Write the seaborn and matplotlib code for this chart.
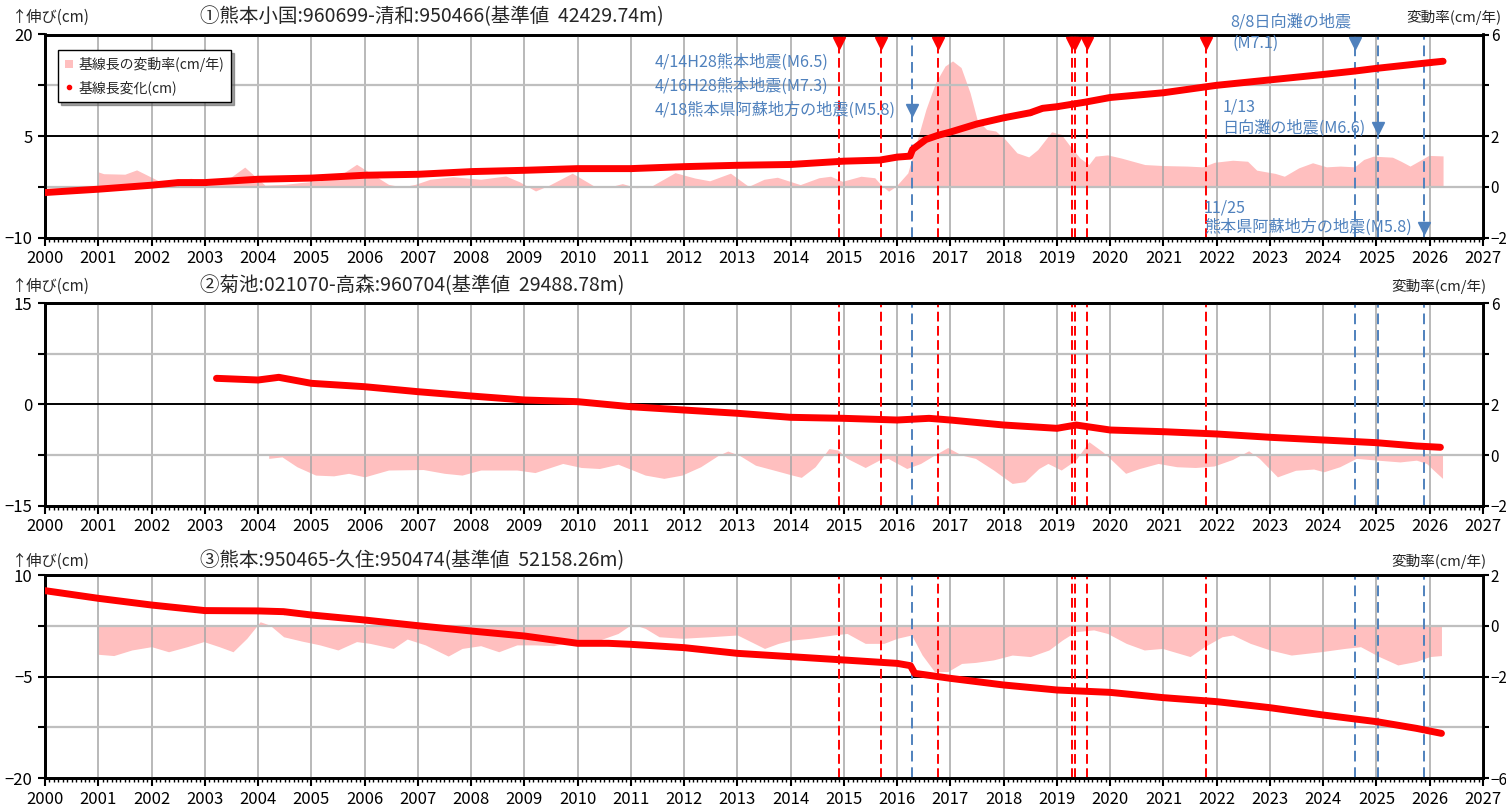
import matplotlib
matplotlib.use("Agg")
import matplotlib.pyplot as plt
from matplotlib.ticker import MultipleLocator
from matplotlib.lines import Line2D
from matplotlib.patches import Patch
import seaborn as sns

sns.set_theme(style="white")
plt.rcParams["font.family"] = ["Noto Sans CJK JP", "DejaVu Sans"]

# ---- 観測データ（図から読み取り） ----
# ① 熊本小国-清和
p1_t = [2000.0, 2001, 2002, 2002.5, 2003, 2004, 2005, 2006, 2007, 2008, 2009, 2010,
        2011, 2012, 2013, 2014, 2015, 2015.67, 2016.0, 2016.24, 2016.29, 2016.54,
        2016.76, 2017, 2017.5, 2018, 2018.5, 2018.73, 2019, 2019.52, 2020, 2021,
        2022, 2023, 2024, 2024.59, 2025, 2026, 2026.25]
p1_v = [-3.33, -2.84, -2.25, -1.86, -1.86, -1.37, -1.2, -0.78, -0.64, -0.24, -0.05, 0.2,
        0.2, 0.49, 0.69, 0.81, 1.3, 1.45, 1.9, 2.04, 3.03, 4.5,
        5.1, 5.6, 6.8, 7.7, 8.45, 9.1, 9.34, 10.0, 10.7, 11.4,
        12.5, 13.3, 14.1, 14.6, 15.0, 15.85, 16.05]
p1_rt = [2001.0, 2001.1, 2001.5, 2001.72, 2002.2, 2002.5, 2002.75, 2003.0, 2003.35, 2003.75,
         2004.13, 2004.5, 2004.8, 2005.16, 2005.5, 2005.85, 2006.45, 2006.7, 2006.95, 2007.23,
         2007.66, 2008.18, 2008.65, 2008.91, 2009.21, 2009.45, 2009.9, 2010.33, 2010.6, 2010.84,
         2011.1, 2011.36, 2011.83, 2012.2, 2012.48, 2012.87, 2013.21, 2013.5, 2013.75, 2014.18,
         2014.53, 2014.75, 2014.97, 2015.32, 2015.58, 2015.71, 2015.84, 2015.98, 2016.2, 2016.38,
         2016.54, 2016.72, 2016.9, 2017.04, 2017.2, 2017.37, 2017.5, 2017.68, 2017.85, 2018.03,
         2018.25, 2018.47, 2018.64, 2018.9, 2019.08, 2019.25, 2019.43, 2019.6, 2019.72, 2019.95,
         2020.2, 2020.65, 2021.0, 2021.44, 2021.74, 2021.96, 2022.3, 2022.58, 2022.75, 2023.1,
         2023.27, 2023.54, 2023.8, 2024.06, 2024.32, 2024.59, 2024.76, 2024.94, 2025.3, 2025.46,
         2025.63, 2025.85, 2025.98, 2026.25]
p1_rate = [0.59, 0.52, 0.5, 0.67, 0.17, 0.3, 0.34, 0.1, 0.17, 0.78,
           0.07, 0.1, 0.17, 0.24, 0.4, 0.89, 0.1, 0.0, 0.1, 0.3,
           0.4, 0.3, 0.43, 0.2, -0.16, 0.05, 0.54, 0.01, 0.0, 0.13,
           -0.03, 0.0, 0.56, 0.35, 0.24, 0.54, 0.02, 0.3, 0.38, 0.09,
           0.36, 0.42, 0.22, 0.42, 0.36, 0.05, -0.17, 0.03, 0.55, 1.87,
           3.05, 4.1, 4.76, 4.96, 4.7, 3.7, 2.66, 2.26, 2.2, 1.87,
           1.34, 1.18, 1.47, 2.17, 2.07, 1.6, 1.14, 0.88, 1.21, 1.26,
           1.14, 0.88, 0.84, 0.82, 0.79, 0.97, 1.05, 1.01, 0.66, 0.53,
           0.42, 0.75, 0.95, 0.79, 0.82, 0.79, 1.08, 1.21, 1.17, 1.01,
           0.82, 1.08, 1.24, 1.22]

# ② 菊池-高森
p2_t = [2003.22, 2004.0, 2004.39, 2005, 2006, 2007, 2008, 2009, 2010, 2011, 2012, 2013,
        2014, 2015, 2016, 2016.6, 2017, 2018, 2019, 2019.36, 2020, 2021, 2022, 2023,
        2024, 2025, 2025.75, 2026.2]
p2_v = [3.88, 3.63, 4.03, 3.14, 2.64, 1.9, 1.26, 0.67, 0.42, -0.33, -0.82, -1.3,
        -1.9, -2.05, -2.3, -2.05, -2.3, -3.04, -3.53, -3.04, -3.78, -4.03, -4.37, -4.86,
        -5.26, -5.66, -6.15, -6.34]
p2_rt = [2004.2, 2004.45, 2004.73, 2005.08, 2005.42, 2005.7, 2006.0, 2006.45, 2007.1, 2007.5,
         2007.83, 2008.18, 2008.86, 2009.2, 2009.72, 2010.07, 2010.41, 2010.76, 2011.27, 2011.62,
         2011.96, 2012.31, 2012.65, 2012.82, 2013.03, 2013.34, 2013.68, 2014.03, 2014.2, 2014.46,
         2014.72, 2014.89, 2015.06, 2015.4, 2015.66, 2015.83, 2016.18, 2016.44, 2016.7, 2016.95,
         2017.21, 2017.47, 2017.81, 2018.16, 2018.4, 2018.66, 2018.83, 2019.08, 2019.35, 2019.6,
         2019.86, 2020.03, 2020.29, 2020.55, 2020.9, 2021.25, 2021.6, 2021.95, 2022.3, 2022.6,
         2022.8, 2023.14, 2023.48, 2023.82, 2024.01, 2024.31, 2024.62, 2025.02, 2025.44, 2025.75,
         2025.94, 2026.07, 2026.24]
p2_rate = [-0.13, -0.07, -0.46, -0.79, -0.82, -0.72, -0.86, -0.59, -0.57, -0.72,
           -0.79, -0.59, -0.59, -0.69, -0.33, -0.49, -0.53, -0.36, -0.79, -0.92,
           -0.79, -0.46, 0.0, 0.16, 0.0, -0.4, -0.59, -0.79, -0.88, -0.46,
           0.26, 0.2, -0.13, -0.49, -0.2, -0.13, -0.53, -0.33, 0.0, 0.3,
           0.0, -0.13, -0.59, -1.12, -1.05, -0.53, -0.33, -0.59, -0.2, 0.53,
           0.13, -0.2, -0.72, -0.53, -0.33, -0.46, -0.49, -0.43, -0.17, 0.17,
           -0.13, -0.86, -0.6, -0.55, -0.66, -0.46, -0.13, -0.2, -0.27, -0.2,
           -0.33, -0.59, -0.92]

# ③ 熊本-久住
p3_t = [2000.0, 2001, 2002, 2003, 2004, 2004.48, 2005, 2006, 2007, 2008, 2009, 2010,
        2010.58, 2011, 2012, 2013, 2014, 2015, 2016, 2016.25, 2016.33, 2017, 2018, 2019,
        2020, 2021, 2022, 2023, 2024, 2025, 2025.75, 2026.22]
p3_v = [7.69, 6.56, 5.57, 4.75, 4.7, 4.59, 4.1, 3.36, 2.52, 1.74, 1.0, -0.08,
        -0.08, -0.23, -0.72, -1.56, -2.05, -2.54, -3.04, -3.38, -4.51, -5.25, -6.23, -6.97,
        -7.32, -8.1, -8.69, -9.58, -10.66, -11.64, -12.63, -13.37]
p3_rt = [2001.0, 2001.29, 2001.63, 2002.0, 2002.32, 2002.67, 2002.98, 2003.27, 2003.53, 2003.79,
         2004.04, 2004.22, 2004.48, 2004.82, 2005.16, 2005.5, 2005.85, 2006.1, 2006.54, 2006.8,
         2007.14, 2007.57, 2007.83, 2008.18, 2008.52, 2008.86, 2009.2, 2009.55, 2009.9, 2010.41,
         2010.76, 2011.02, 2011.27, 2011.53, 2011.96, 2012.48, 2013.0, 2013.51, 2013.77, 2014.03,
         2014.37, 2014.8, 2015.06, 2015.4, 2015.75, 2016.0, 2016.27, 2016.47, 2016.7, 2016.95,
         2017.21, 2017.47, 2017.81, 2018.16, 2018.5, 2018.85, 2019.1, 2019.35, 2019.69, 2019.95,
         2020.3, 2020.64, 2020.98, 2021.5, 2021.77, 2022.1, 2022.3, 2022.63, 2023.0, 2023.4,
         2023.95, 2024.4, 2024.7, 2025.05, 2025.4, 2025.75, 2026.0, 2026.22]
p3_rate = [-1.12, -1.17, -0.95, -0.82, -1.02, -0.82, -0.62, -0.82, -1.02, -0.49,
           0.16, 0.03, -0.43, -0.6, -0.75, -0.95, -0.62, -0.69, -0.89, -0.52,
           -0.75, -1.19, -0.89, -0.78, -1.02, -0.75, -0.75, -0.78, -0.62, -0.56,
           -0.3, 0.07, -0.1, -0.43, -0.49, -0.43, -0.36, -0.89, -0.69, -0.56,
           -0.49, -0.36, -0.3, -0.69, -0.69, -0.49, -0.36, -1.15, -1.8, -1.8,
           -1.48, -1.44, -1.34, -1.15, -1.21, -0.95, -0.56, -0.23, -0.16, -0.3,
           -0.69, -0.95, -0.89, -1.21, -0.82, -0.43, -0.36, -0.69, -0.95, -1.15,
           -1.02, -0.89, -0.82, -1.21, -1.54, -1.4, -1.21, -1.17]

# イベント（赤：機器交換等、青：地震）
red_events = [2014.90, 2015.70, 2016.76, 2019.28, 2019.33, 2019.57, 2021.80]
blue_events = [2016.28, 2024.60, 2025.03, 2025.90]

titles = ["①熊本小国:960699-清和:950466(基準値  42429.74m)",
          "②菊池:021070-高森:960704(基準値  29488.78m)",
          "③熊本:950465-久住:950474(基準値  52158.26m)"]

RED = "#FF0000"
PINK = "#FFBFBF"
BLUE = "#4F81BD"
W, H = 1506, 811

fig = plt.figure(figsize=(W / 100, H / 100), dpi=100, facecolor="white")

panels = [
    dict(top=34.5, bot=237.7, t=p1_t, v=p1_v, rt=p1_rt, rate=p1_rate,
         ylim=(-10, 20), lticks=[-10, -2.5, 5, 12.5, 20], llab=["−10", "", "5", "", "20"],
         rlim=(-2, 6), rticks=[-2, 0, 2, 4, 6], rlab=["−2", "0", "2", "", "6"],
         ty=17, rx=1501),
    dict(top=303.3, bot=505.7, t=p2_t, v=p2_v, rt=p2_rt, rate=p2_rate,
         ylim=(-15, 15), lticks=[-15, -7.5, 0, 7.5, 15], llab=["−15", "", "0", "", "15"],
         rlim=(-2, 6), rticks=[-2, 0, 2, 4, 6], rlab=["−2", "0", "2", "", "6"],
         ty=286, rx=1486),
    dict(top=575.0, bot=778.3, t=p3_t, v=p3_v, rt=p3_rt, rate=p3_rate,
         ylim=(-20, 10), lticks=[-20, -12.5, -5, 2.5, 10], llab=["−20", "", "−5", "", "10"],
         rlim=(-6, 2), rticks=[-6, -4, -2, 0, 2], rlab=["−6", "", "−2", "0", "2"],
         ty=561, rx=1486),
]

axes = []
for i, p in enumerate(panels):
    ax = fig.add_axes([45 / W, 1 - p["bot"] / H, (1483 - 45) / W, (p["bot"] - p["top"]) / H])
    ax2 = ax.twinx()
    ax.set_zorder(ax2.get_zorder() + 1)
    ax.patch.set_visible(False)

    # 変動率（右軸）
    ax2.fill_between(p["rt"], 0, p["rate"], color=PINK, lw=0)
    ax2.set_ylim(*p["rlim"])
    ax2.set_yticks(p["rticks"])
    ax2.set_yticklabels(p["rlab"])
    ax2.tick_params(axis="y", direction="out", length=4, width=1.5, pad=1.5,
                    labelsize=11, colors="black")
    ax2.grid(False)

    # 格子
    ax.set_xlim(2000, 2027)
    ax.set_ylim(*p["ylim"])
    ax.set_xticks(range(2000, 2028))
    ax.xaxis.set_minor_locator(MultipleLocator(1 / 12))
    ax.grid(axis="x", which="major", color="#A6A6A6", lw=1.1)
    ax.grid(axis="y", visible=False)
    lt = p["lticks"]
    for k, yv in enumerate(lt[1:-1]):
        ax.axhline(yv, color="black" if k == 1 else "#BFBFBF", lw=1.4 if k == 1 else 1.6, zorder=1)

    for xe in red_events:
        ax.axvline(xe, color=RED, lw=1.4, dashes=(5, 2.3), zorder=2)
    for xe in blue_events:
        ax.axvline(xe, color=BLUE, lw=1.4, dashes=(5.5, 3), zorder=2)

    # 基線長変化（左軸）
    sns.lineplot(x=p["t"], y=p["v"], ax=ax, color=RED, lw=5, legend=False, zorder=3)
    sns.scatterplot(x=p["t"], y=p["v"], ax=ax, color=RED, s=14, linewidth=0, zorder=3)

    ax.set_yticks(lt)
    ax.set_yticklabels(p["llab"])
    ax.set_xticklabels([str(y) for y in range(2000, 2028)])
    ax.tick_params(axis="x", which="major", direction="out", length=6, width=1.5,
                   labelsize=12, pad=3, bottom=True, colors="black")
    ax.tick_params(axis="x", which="minor", direction="out", length=3, width=1,
                   bottom=True, colors="black")
    ax.tick_params(axis="y", direction="out", length=5, width=1.5, labelsize=12, pad=4,
                   left=True, colors="black")
    ax.set_xlabel("")
    ax.set_ylabel("")
    for a in (ax, ax2):
        for s in a.spines.values():
            s.set_color("black")
            s.set_linewidth(2)

    fig.text(12 / W, 1 - p["ty"] / H, "↑伸び(cm)", fontsize=11, ha="left", va="center")
    fig.text(200 / W, 1 - p["ty"] / H, titles[i], fontsize=14, ha="left", va="center")
    fig.text(p["rx"] / W, 1 - p["ty"] / H, "変動率(cm/年)", fontsize=10.5, ha="right", va="center")
    axes.append(ax)

ax1 = axes[0]
ax1.plot(red_events, [18.7] * len(red_events), "v", color=RED, ms=9, zorder=5, clip_on=False)
ax1.plot(blue_events, [8.85, 18.7, 6.15, -8.5], "v", color=BLUE, ms=9, zorder=5, clip_on=False)

ann = [(2011.45, 15.94, "4/14H28熊本地震(M6.5)"),
       (2011.45, 12.4, "4/16H28熊本地震(M7.3)"),
       (2011.45, 8.85, "4/18熊本県阿蘇地方の地震(M5.8)"),
       (2022.25, 21.9, "8/8日向灘の地震"),
       (2022.30, 18.75, "(M7.1)"),
       (2022.11, 9.3, "1/13"),
       (2022.11, 6.15, "日向灘の地震(M6.6)"),
       (2021.76, -5.6, "11/25"),
       (2021.76, -8.5, "熊本県阿蘇地方の地震(M5.8)")]
for x, y, s in ann:
    ax1.text(x, y, s, color=BLUE, fontsize=11.6, ha="left", va="center", clip_on=False, zorder=6)

handles = [Patch(facecolor=PINK, edgecolor="none"),
           Line2D([], [], marker="o", ms=3, color=RED, lw=0)]
fig.legend(handles, ["基線長の変動率(cm/年)", "基線長変化(cm)"], loc="upper left",
           bbox_to_anchor=(51 / W, 1 - 43 / H), fontsize=10, frameon=True, fancybox=False,
           edgecolor="black", framealpha=1, shadow={"color": "0.4", "alpha": 0.6},
           handlelength=0.6, handleheight=0.6, handletextpad=0.4, labelspacing=0.6,
           borderpad=0.5)

fig.savefig("out.png", dpi=100, facecolor="white")
